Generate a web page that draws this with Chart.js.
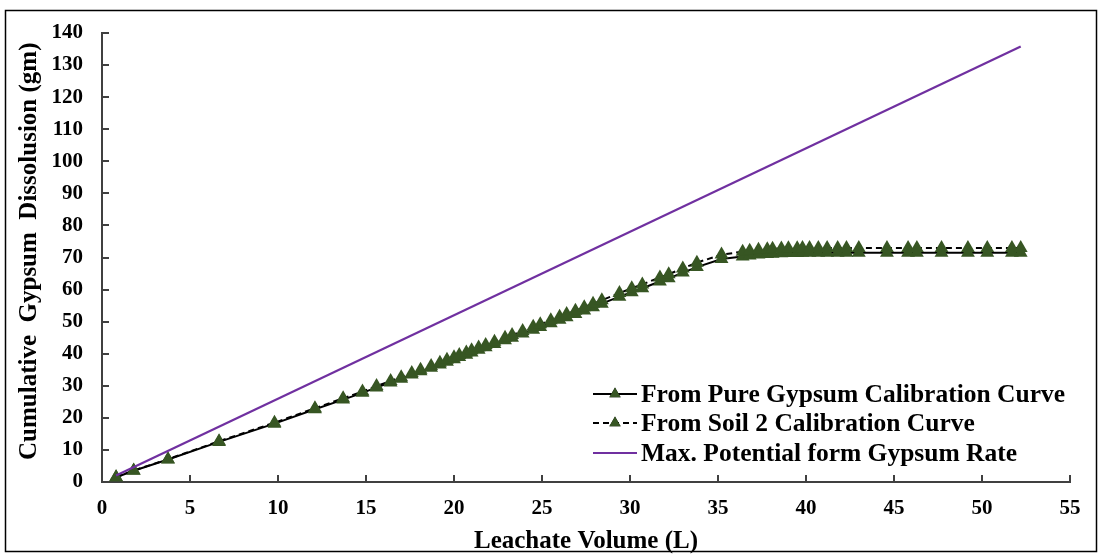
<!DOCTYPE html>
<html>
<head>
<meta charset="utf-8">
<script src="https://cdn.jsdelivr.net/npm/chart.js@4.4.1/dist/chart.umd.min.js"></script>
<style>
  html, body { margin: 0; padding: 0; background: #fff; }
  #wrap { width: 1104px; height: 555px; position: relative; }
</style>
</head>
<body>
<div id="wrap"><canvas id="c" width="1104" height="555"></canvas></div>
<script>
// Leachate volume (L) at each sampling
const volume = [0.8, 1.8, 3.75, 6.65, 9.8, 12.1, 13.7, 14.8, 15.6, 16.4, 17.0, 17.6, 18.1, 18.7, 19.2, 19.6,
  20.0, 20.3, 20.7, 21.0, 21.4, 21.8, 22.3, 22.9, 23.3, 23.9, 24.5, 24.9, 25.5, 26.0, 26.4, 26.9, 27.4, 27.9,
  28.4, 29.4, 30.1, 30.7, 31.7, 32.2, 33.0, 33.8, 35.2, 36.4, 36.8, 37.3, 37.8, 38.1, 38.6, 39.0, 39.5, 39.8,
  40.2, 40.7, 41.2, 41.8, 42.3, 43.0, 44.6, 45.8, 46.3, 47.7, 49.2, 50.3, 51.7, 52.2];

// Cumulative dissolution (gm) from the pure gypsum calibration curve
const pureGypsum = [1.5, 3.5, 7.0, 12.5, 18.2, 22.7, 25.7, 27.8, 29.5, 31.0, 32.2, 33.5, 34.5, 35.6, 36.6, 37.5,
  38.3, 39.0, 39.7, 40.4, 41.2, 42.0, 43.0, 44.2, 45.0, 46.3, 47.5, 48.3, 49.5, 50.6, 51.4, 52.4, 53.5, 54.5,
  55.6, 57.8, 59.2, 60.4, 62.5, 63.5, 65.3, 67.0, 69.5, 70.3, 70.6, 70.9, 71.1, 71.2, 71.3, 71.4, 71.4, 71.5,
  71.5, 71.5, 71.5, 71.5, 71.5, 71.5, 71.5, 71.5, 71.5, 71.5, 71.5, 71.5, 71.5, 71.5];

// Cumulative dissolution (gm) from the soil 2 calibration curve
const soil2 = [1.5, 3.6, 7.1, 12.7, 18.5, 23.0, 26.1, 28.2, 29.9, 31.5, 32.7, 34.0, 35.0, 36.2, 37.2, 38.1,
  38.9, 39.6, 40.4, 41.1, 41.9, 42.7, 43.7, 45.0, 45.8, 47.1, 48.4, 49.2, 50.4, 51.5, 52.4, 53.4, 54.5, 55.6,
  56.7, 58.9, 60.4, 61.6, 63.8, 64.8, 66.6, 68.4, 70.9, 71.8, 72.1, 72.4, 72.6, 72.7, 72.8, 72.9, 72.9, 73.0,
  73.0, 73.0, 73.0, 73.0, 73.0, 73.0, 73.0, 73.0, 73.0, 73.0, 73.0, 73.0, 73.0, 73.0];

// Maximum potential line (start and end points)
const maxVolume = [0.8, 52.2];
const maxPotential = [2.0, 135.8];

const seriesLabels = ['From Pure Gypsum Calibration Curve', 'From Soil 2 Calibration Curve', 'Max. Potential form Gypsum Rate'];
const xTicks = [0, 5, 10, 15, 20, 25, 30, 35, 40, 45, 50, 55];
const yTicks = [0, 10, 20, 30, 40, 50, 60, 70, 80, 90, 100, 110, 120, 130, 140];

const MARKER = '#375623';
const SERIF = '"Liberation Serif", "Times New Roman", serif';

const toXY = (xs, ys) => xs.map((x, i) => ({ x: x, y: ys[i] }));

// Outer frame around the whole figure
const framePlugin = {
  id: 'frame',
  afterDraw(chart) {
    const ctx = chart.ctx;
    ctx.save();
    ctx.strokeStyle = '#000';
    ctx.lineWidth = 1.5;
    ctx.strokeRect(5.5, 10.5, 1091, 541);
    ctx.restore();
  }
};

// Inward-pointing tick marks on both axes
const innerTicks = {
  id: 'innerTicks',
  afterDraw(chart) {
    const ctx = chart.ctx;
    const xs = chart.scales.x, ys = chart.scales.y;
    const a = chart.chartArea;
    ctx.save();
    ctx.strokeStyle = '#404040';
    ctx.lineWidth = 2;
    xs.ticks.forEach(t => {
      const px = Math.round(xs.getPixelForValue(t.value));
      ctx.beginPath(); ctx.moveTo(px, a.bottom); ctx.lineTo(px, a.bottom - 7); ctx.stroke();
    });
    ys.ticks.forEach(t => {
      const py = Math.round(ys.getPixelForValue(t.value));
      ctx.beginPath(); ctx.moveTo(a.left, py); ctx.lineTo(a.left + 7, py); ctx.stroke();
    });
    ctx.restore();
  }
};

// Legend in the lower right of the plot: line sample with marker, then label
const insetLegend = {
  id: 'insetLegend',
  afterDraw(chart) {
    const ctx = chart.ctx;
    const x0 = 593, x1 = 637, tx = 641;
    const rows = [394, 423, 453];
    ctx.save();
    chart.data.datasets.forEach((ds, i) => {
      const y = rows[i];
      ctx.strokeStyle = ds.borderColor;
      ctx.lineWidth = ds.borderWidth;
      ctx.setLineDash(ds.borderDash || []);
      ctx.beginPath(); ctx.moveTo(x0, y); ctx.lineTo(x1, y); ctx.stroke();
      ctx.setLineDash([]);
      if (ds.pointRadius > 0) {
        Chart.helpers.drawPoint(ctx, { pointStyle: 'triangle', radius: 6.5, borderWidth: 0, rotation: 0 }, (x0 + x1) / 2, y);
        ctx.fillStyle = MARKER;
        ctx.fill();
      }
      ctx.fillStyle = '#000';
      ctx.font = 'bold 25.5px ' + SERIF;
      ctx.textBaseline = 'middle';
      ctx.textAlign = 'left';
      ctx.fillText(ds.label, tx, y + 1);
    });
    ctx.restore();
  }
};

new Chart(document.getElementById('c'), {
  type: 'scatter',
  data: {
    datasets: [
      {
        label: seriesLabels[0],
        data: toXY(volume, pureGypsum),
        showLine: true,
        borderColor: '#000',
        borderWidth: 2,
        pointStyle: 'triangle',
        pointRadius: 8,
        pointBackgroundColor: MARKER,
        pointBorderColor: MARKER,
        pointBorderWidth: 0,
        order: 2
      },
      {
        label: seriesLabels[1],
        data: toXY(volume, soil2),
        showLine: true,
        borderColor: '#000',
        borderWidth: 2,
        borderDash: [6, 4],
        pointStyle: 'triangle',
        pointRadius: 8,
        pointBackgroundColor: MARKER,
        pointBorderColor: MARKER,
        pointBorderWidth: 0,
        order: 1
      },
      {
        label: seriesLabels[2],
        data: toXY(maxVolume, maxPotential),
        showLine: true,
        borderColor: '#7030A0',
        borderWidth: 2.2,
        pointRadius: 0,
        order: 0
      }
    ]
  },
  options: {
    responsive: false,
    animation: false,
    events: [],
    layout: { padding: { left: 0, right: 34, top: 33, bottom: 0 } },
    plugins: { legend: { display: false }, tooltip: { enabled: false } },
    scales: {
      x: {
        type: 'linear',
        min: 0, max: 55,
        afterBuildTicks: s => { s.ticks = xTicks.map(v => ({ value: v })); },
        afterFit: s => { s.height = 73; },
        grid: { display: true, drawOnChartArea: false, drawTicks: false },
        border: { display: true, color: '#404040', width: 2 },
        ticks: { color: '#000', padding: 14, font: { family: SERIF, size: 21, weight: 'bold' }, maxRotation: 0 },
        title: { display: true, text: 'Leachate Volume (L)', color: '#000', padding: { top: 0, bottom: 0 },
                 font: { family: SERIF, size: 25, weight: 'bold', lineHeight: 1.1 } }
      },
      y: {
        type: 'linear',
        min: 0, max: 140,
        afterBuildTicks: s => { s.ticks = yTicks.map(v => ({ value: v })); },
        afterFit: s => { s.width = 102; },
        grid: { display: true, drawOnChartArea: false, drawTicks: false },
        border: { display: true, color: '#404040', width: 2 },
        ticks: { color: '#000', padding: 19, font: { family: SERIF, size: 21, weight: 'bold' } },
        title: { display: true, text: '  Cumulative  Gypsum  Dissolusion (gm)', color: '#000', padding: { top: 15, bottom: 0 },
                 font: { family: SERIF, size: 25, weight: 'bold' } }
      }
    }
  },
  plugins: [framePlugin, innerTicks, insetLegend]
});
</script>
</body>
</html>
